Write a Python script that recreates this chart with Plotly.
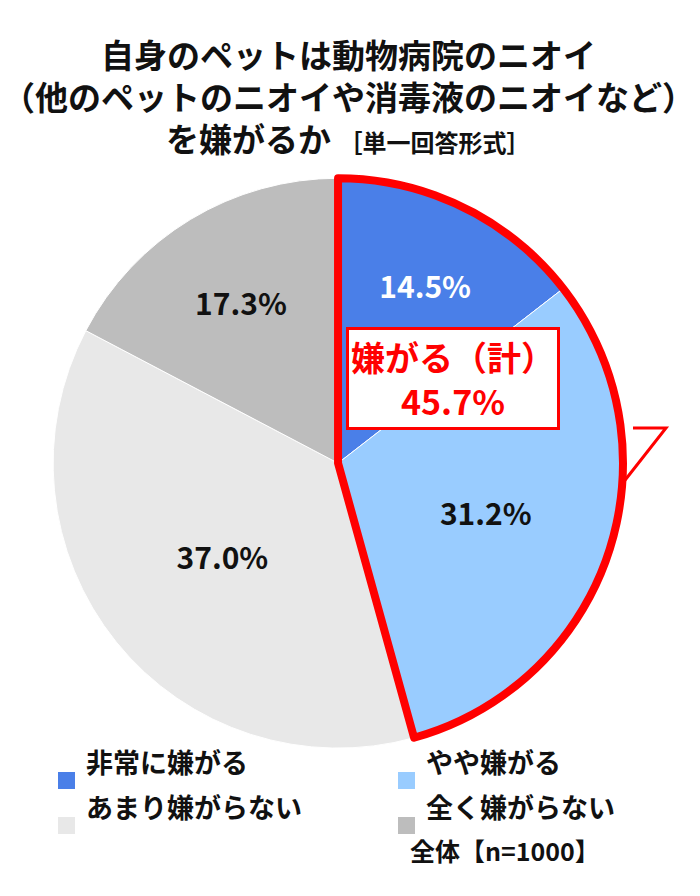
import plotly.graph_objects as go

labels = ["非常に嫌がる", "やや嫌がる", "あまり嫌がらない", "全く嫌がらない"]
values = [14.5, 31.2, 37.0, 17.3]
colors = ["#4A7FE8", "#99CCFF", "#E8E8E8", "#BDBDBD"]
text_colors = ["white", "#111111", "#111111", "#111111"]
group_values = [45.7, 54.3]

FONT = "Noto Sans CJK JP"
dom = dict(x=[0.064, 0.879], y=[0.174, 0.810])

fig = go.Figure()
fig.add_trace(go.Pie(
    labels=labels, values=values, sort=False, direction="clockwise",
    domain=dom, marker=dict(colors=colors, line=dict(color="white", width=1)),
    texttemplate="<b>%{value:.1f}%</b>", textposition="inside",
    insidetextorientation="horizontal",
    textfont=dict(size=30, color=text_colors, family=FONT),
    showlegend=False, hoverinfo="skip",
))
fig.add_trace(go.Pie(
    values=group_values, sort=False, direction="clockwise", domain=dom,
    marker=dict(colors=["rgba(0,0,0,0)", "rgba(0,0,0,0)"],
                line=dict(color=["#FF0000", "rgba(0,0,0,0)"], width=[8, 0])),
    textinfo="none", showlegend=False, hoverinfo="skip",
))

def px(x, y):
    return x / 700, 1 - y / 896

ann = []
title = ["自身のペットは動物病院のニオイ",
         "（他のペットのニオイや消毒液のニオイなど）",
         "を嫌がるか <span style='font-size:24px'>［単一回答形式］</span>"]
for i, t in enumerate(title):
    x, y = px(340, 20 + i * 42)
    ann.append(dict(x=x, y=y, text="<b>" + t + "</b>", showarrow=False,
                    font=dict(size=33, family=FONT, color="#111111")))

x, y = px(552, 370)
ann.append(dict(x=x, y=y, text="<b>嫌がる（計）<br>45.7%</b>", showarrow=False,
                font=dict(size=34, family=FONT, color="#FF0000"),
                bordercolor="#FF0000", borderwidth=3, bgcolor="white",
                borderpad=2))

legend_pos = [(50, 775), (390, 775), (50, 820), (390, 820)]
for lab, col, (lx, ly) in zip(labels, colors, legend_pos):
    x, y = px(lx + 26, ly)
    ann.append(dict(x=x, y=y, text="<b>" + lab + "</b>", showarrow=False, xanchor="left",
                    font=dict(size=27, family=FONT, color="#111111")))
    fig.add_shape(type="rect", xref="paper", yref="paper",
                  x0=lx / 700, x1=(lx + 17) / 700,
                  y0=1 - (ly + 6) / 896, y1=1 - (ly - 11) / 896,
                  fillcolor=col, line=dict(width=0))
x, y = px(400, 862)
ann.append(dict(x=x, y=y, text="<b>全体【n=1000】</b>", showarrow=False, xanchor="left",
                font=dict(size=25, family=FONT, color="#111111")))

fig.add_shape(type="path", xref="paper", yref="paper",
              path=f"M {625/700} {1-420/896} L {658/700} {1-420/896} L {614/700} {1-476/896}",
              line=dict(color="#FF0000", width=3))

fig.update_layout(width=700, height=896, margin=dict(l=0, r=0, t=0, b=0),
                  paper_bgcolor="white", annotations=ann)
fig.write_html("out.html")
